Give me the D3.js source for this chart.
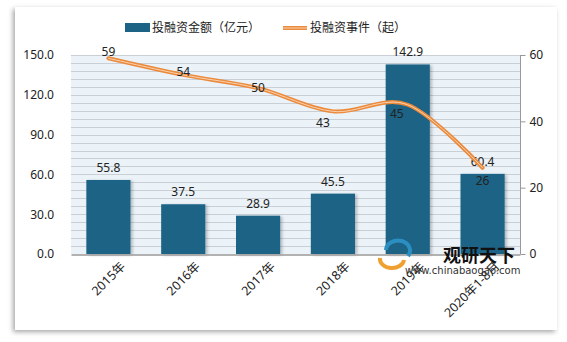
<!DOCTYPE html>
<html><head><meta charset="utf-8">
<script src="https://cdn.jsdelivr.net/npm/d3@7/dist/d3.min.js"></script>
<style>body{margin:0;background:#fff}svg{display:block}</style>
</head><body>
<script>
const categories = ["2015年","2016年","2017年","2018年","2019年","2020年1-8月"];
const amounts = [55.8,37.5,28.9,45.5,142.9,60.4];
const events = [59,54,50,43,45,26];
const leftTicks = [0,30,60,90,120,150];
const rightTicks = [0,20,40,60];
const seriesNames = ["投融资金额（亿元）","投融资事件（起）"];
const eventLabelOffsets = [[0,-7],[0,-3],[0,0],[-10,11],[-11,9],[0,13]];

const W=567,H=342;
const svg=d3.select("body").append("svg").attr("width",W).attr("height",H);
const defs=svg.append("defs");
const f=defs.append("filter").attr("id","sh").attr("x","-10%").attr("y","-10%").attr("width","120%").attr("height","120%");
f.append("feDropShadow").attr("dx",-2).attr("dy",2).attr("stdDeviation",2.5).attr("flood-color","#000").attr("flood-opacity",0.35);
const fb=defs.append("filter").attr("id","bs").attr("x","-20%").attr("y","-10%").attr("width","140%").attr("height","120%");
fb.append("feDropShadow").attr("dx",2).attr("dy",1).attr("stdDeviation",1.5).attr("flood-color","#000").attr("flood-opacity",0.25);

svg.append("rect").attr("x",15).attr("y",7).attr("width",542).attr("height",323).attr("fill","#fff").attr("filter","url(#sh)");

const L=71,R=520,T=55,B=254;
const x=d3.scaleBand().domain(categories).range([L,R]).paddingInner(0.41).paddingOuter(0.205);
const yL=d3.scaleLinear().domain([0,150]).range([B,T]);
const yR=d3.scaleLinear().domain([0,60]).range([B,T]);

svg.append("rect").attr("x",L).attr("y",T).attr("width",R-L).attr("height",B-T).attr("fill","#ebf2f8");
const grid=d3.range(6,150.1,6);
svg.append("g").selectAll("line").data(grid).join("line")
 .attr("x1",L).attr("x2",R).attr("y1",d=>Math.round(yL(d))+0.5).attr("y2",d=>Math.round(yL(d))+0.5)
 .attr("stroke","#c9cfd5").attr("stroke-width",1);

const font="'Noto Sans','Noto Sans CJK SC',sans-serif";
svg.append("g").selectAll("rect").data(amounts).join("rect")
 .attr("x",(d,i)=>x(categories[i])).attr("width",x.bandwidth())
 .attr("y",d=>yL(d)).attr("height",d=>B-yL(d)).attr("fill","#1c6386").attr("filter","url(#bs)");
svg.append("g").selectAll("text").data(amounts).join("text")
 .attr("x",(d,i)=>x(categories[i])+x.bandwidth()/2).attr("y",d=>yL(d)-8)
 .attr("text-anchor","middle").attr("font-family",font).attr("font-size",12).attr("fill","#222")
 .text(d=>d.toFixed(1));

const axL=d3.axisLeft(yL).tickValues(leftTicks).tickFormat(d3.format(".1f")).tickSize(0).tickPadding(17);
const gL=svg.append("g").attr("transform",`translate(${L},0)`).call(axL);
gL.select(".domain").remove();
gL.selectAll("text").attr("font-family",font).attr("font-size",12).attr("fill","#222");

const axR=d3.axisRight(yR).tickValues(rightTicks).tickSize(5).tickPadding(4);
const gR=svg.append("g").attr("transform",`translate(${R+0.5},0)`).call(axR);
gR.select(".domain").attr("stroke","#999").attr("d",`M0,${T}V${B}`);
gR.selectAll("line").attr("stroke","#999");
gR.selectAll("text").attr("font-family",font).attr("font-size",12).attr("fill","#222");

const axB=d3.axisBottom(x).tickSize(0).tickPadding(6);
const gB=svg.append("g").attr("transform",`translate(0,${B+0.5})`).call(axB);
gB.select(".domain").attr("stroke","#999").attr("stroke-width",1.5);
gB.selectAll("text").attr("font-family",font).attr("font-size",12.5).attr("fill","#222")
 .attr("text-anchor","end").attr("transform","translate(9,4) rotate(-45)").attr("dy","0.5em");

const cx=i=>x(categories[i])+x.bandwidth()/2;
const line=d3.line().x((d,i)=>cx(i)).y(d=>yR(d)).curve(d3.curveCardinal.tension(0));
svg.append("path").datum(events).attr("d",line).attr("fill","none").attr("stroke","#ec8a3c").attr("stroke-width",4).attr("stroke-linecap","round");
svg.append("path").datum(events).attr("d",line).attr("fill","none").attr("stroke","#f9d2b0").attr("stroke-width",1).attr("stroke-linecap","round");
svg.append("g").selectAll("text").data(events).join("text")
 .attr("x",(d,i)=>cx(i)+eventLabelOffsets[i][0]).attr("y",(d,i)=>yR(d)+eventLabelOffsets[i][1])
 .attr("dy","0.35em").attr("text-anchor","middle").attr("font-family",font).attr("font-size",12).attr("fill","#222")
 .text(d=>d);

const lg=svg.append("g").attr("font-family",font).attr("font-size",12).attr("fill","#222");
lg.append("rect").attr("x",125).attr("y",23).attr("width",25).attr("height",9).attr("fill","#1c6386");
lg.append("text").attr("x",152).attr("y",28).attr("dy","0.35em").text(seriesNames[0]);
lg.append("line").attr("x1",283).attr("x2",307).attr("y1",28).attr("y2",28).attr("stroke","#ec8a3c").attr("stroke-width",4);
lg.append("line").attr("x1",283).attr("x2",307).attr("y1",28).attr("y2",28).attr("stroke","#f9d2b0").attr("stroke-width",1);
lg.append("text").attr("x",310).attr("y",28).attr("dy","0.35em").text(seriesNames[1]);

const wm=svg.append("g");
wm.append("path").attr("d","M386,250 a12,10 0 1,1 22,6").attr("fill","none").attr("stroke","#2b8fc2").attr("stroke-width",4);
wm.append("path").attr("d","M380,258 a12,9 0 0,0 24,2").attr("fill","none").attr("stroke","#f0a030").attr("stroke-width",4);
wm.append("text").attr("x",443).attr("y",262).attr("font-family","'Noto Sans CJK SC',sans-serif").attr("font-weight","bold").attr("font-size",18).attr("fill","#111").text("观研天下");
wm.append("text").attr("x",405).attr("y",274).attr("font-family","'DejaVu Sans',sans-serif").attr("font-size",10).attr("fill","#333").text("www.chinabaogao.com");
</script>
</body></html>
